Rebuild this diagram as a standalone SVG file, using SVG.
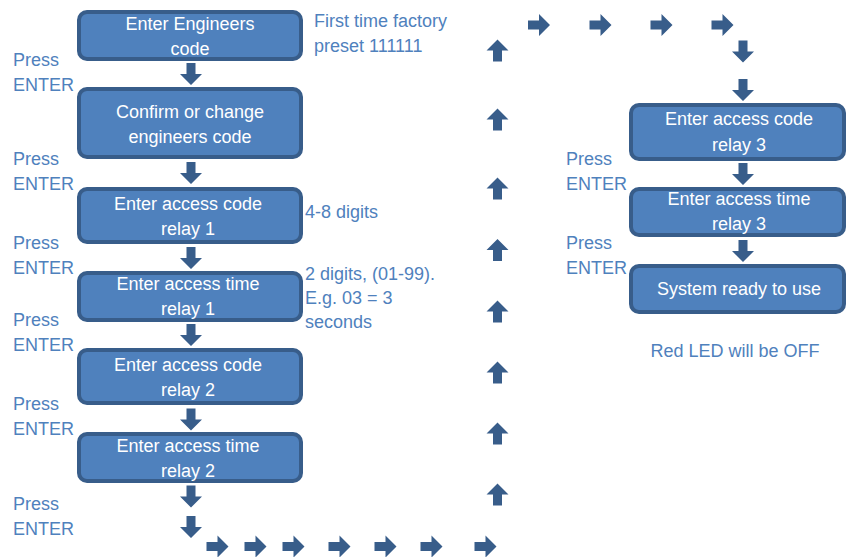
<svg xmlns="http://www.w3.org/2000/svg" xmlns:xlink="http://www.w3.org/1999/xlink" width="847" height="557" viewBox="0 0 847 557">
  <style>
    .box rect { fill: #4f81bd; stroke: #385d8a; stroke-width: 4; }
    .box text { fill: #ffffff; font-family: "Liberation Sans", Arial, sans-serif; font-size: 18px; text-anchor: middle; }
    .lbl { fill: #4f81bd; font-family: "Liberation Sans", Arial, sans-serif; font-size: 18px; }
    .arr { fill: #385d8a; }
  </style>
  <defs>
    <!-- block arrow pointing down, centred on the origin -->
    <path id="dn" d="M-4.5,-11 H4.5 V0 H11 L0,11 L-11,0 H-4.5 Z"/>
    <use id="rt" xlink:href="#dn" transform="rotate(-90)"/>
    <use id="up" xlink:href="#dn" transform="rotate(180)"/>
  </defs>

  <!-- left column -->
  <g id="n1" class="box">
    <rect x="79" y="12" width="222" height="47" rx="8"/>
    <text x="190" y="30">Enter Engineers</text>
    <text x="190" y="55">code</text>
  </g>
  <g id="n2" class="box">
    <rect x="79" y="89" width="222" height="68" rx="8"/>
    <text x="190" y="118">Confirm or change</text>
    <text x="190" y="143">engineers code</text>
  </g>
  <g id="n3" class="box">
    <rect x="79" y="189" width="222" height="53" rx="8"/>
    <text x="188" y="210">Enter access code</text>
    <text x="188" y="235">relay 1</text>
  </g>
  <g id="n4" class="box">
    <rect x="79" y="273" width="222" height="47" rx="8"/>
    <text x="188" y="290">Enter access time</text>
    <text x="188" y="315">relay 1</text>
  </g>
  <g id="n5" class="box">
    <rect x="79" y="350" width="222" height="53" rx="8"/>
    <text x="188" y="371">Enter access code</text>
    <text x="188" y="396">relay 2</text>
  </g>
  <g id="n6" class="box">
    <rect x="79" y="434" width="222" height="47" rx="8"/>
    <text x="188" y="452">Enter access time</text>
    <text x="188" y="477">relay 2</text>
  </g>

  <!-- right column -->
  <g id="n7" class="box">
    <rect x="631" y="105" width="213" height="54" rx="8"/>
    <text x="739" y="125">Enter access code</text>
    <text x="739" y="151">relay 3</text>
  </g>
  <g id="n8" class="box">
    <rect x="631" y="189" width="213" height="46" rx="8"/>
    <text x="739" y="205">Enter access time</text>
    <text x="739" y="230">relay 3</text>
  </g>
  <g id="n9" class="box">
    <rect x="631" y="266" width="213" height="46" rx="8"/>
    <text x="739" y="295">System ready to use</text>
  </g>

  <!-- side labels -->
  <g id="labels" class="lbl">
    <text x="13" y="66">Press</text><text x="13" y="91">ENTER</text>
    <text x="13" y="165">Press</text><text x="13" y="190">ENTER</text>
    <text x="13" y="249">Press</text><text x="13" y="274">ENTER</text>
    <text x="13" y="326">Press</text><text x="13" y="351">ENTER</text>
    <text x="13" y="410">Press</text><text x="13" y="435">ENTER</text>
    <text x="13" y="510">Press</text><text x="13" y="535">ENTER</text>
    <text x="566" y="165">Press</text><text x="566" y="190">ENTER</text>
    <text x="566" y="249">Press</text><text x="566" y="274">ENTER</text>
    <text x="314" y="27">First time factory</text>
    <text x="314" y="52">preset 111111</text>
    <text x="305" y="218">4-8 digits</text>
    <text x="305" y="280">2 digits, (01-99).</text>
    <text x="305" y="304">E.g. 03 = 3</text>
    <text x="305" y="328">seconds</text>
    <text x="735" y="357" text-anchor="middle">Red LED will be OFF</text>
  </g>

  <!-- connectors -->
  <g id="connectors" class="arr">
    <use xlink:href="#dn" x="191" y="74"/>
    <use xlink:href="#dn" x="191" y="173"/>
    <use xlink:href="#dn" x="191" y="258"/>
    <use xlink:href="#dn" x="191" y="335"/>
    <use xlink:href="#dn" x="191" y="419.5"/>
    <use xlink:href="#dn" x="191" y="496.5"/>
    <use xlink:href="#dn" x="191" y="527"/>

    <use xlink:href="#rt" transform="translate(217.5,546.5)"/>
    <use xlink:href="#rt" transform="translate(255.5,546.5)"/>
    <use xlink:href="#rt" transform="translate(293.5,546.5)"/>
    <use xlink:href="#rt" transform="translate(339.5,546.5)"/>
    <use xlink:href="#rt" transform="translate(385.5,546.5)"/>
    <use xlink:href="#rt" transform="translate(431.5,546.5)"/>
    <use xlink:href="#rt" transform="translate(485.5,546.5)"/>

    <use xlink:href="#up" transform="translate(497.5,494.5)"/>
    <use xlink:href="#up" transform="translate(497.5,433.5)"/>
    <use xlink:href="#up" transform="translate(497.5,372.5)"/>
    <use xlink:href="#up" transform="translate(497.5,311.5)"/>
    <use xlink:href="#up" transform="translate(497.5,250)"/>
    <use xlink:href="#up" transform="translate(497.5,188.5)"/>
    <use xlink:href="#up" transform="translate(497.5,119.5)"/>
    <use xlink:href="#up" transform="translate(497.5,50.5)"/>

    <use xlink:href="#rt" transform="translate(539,25)"/>
    <use xlink:href="#rt" transform="translate(600.5,25)"/>
    <use xlink:href="#rt" transform="translate(661.5,25)"/>
    <use xlink:href="#rt" transform="translate(722.5,25)"/>

    <use xlink:href="#dn" x="743" y="51.5"/>
    <use xlink:href="#dn" x="743" y="90"/>
    <use xlink:href="#dn" x="743" y="174"/>
    <use xlink:href="#dn" x="743" y="251"/>
  </g>
</svg>
